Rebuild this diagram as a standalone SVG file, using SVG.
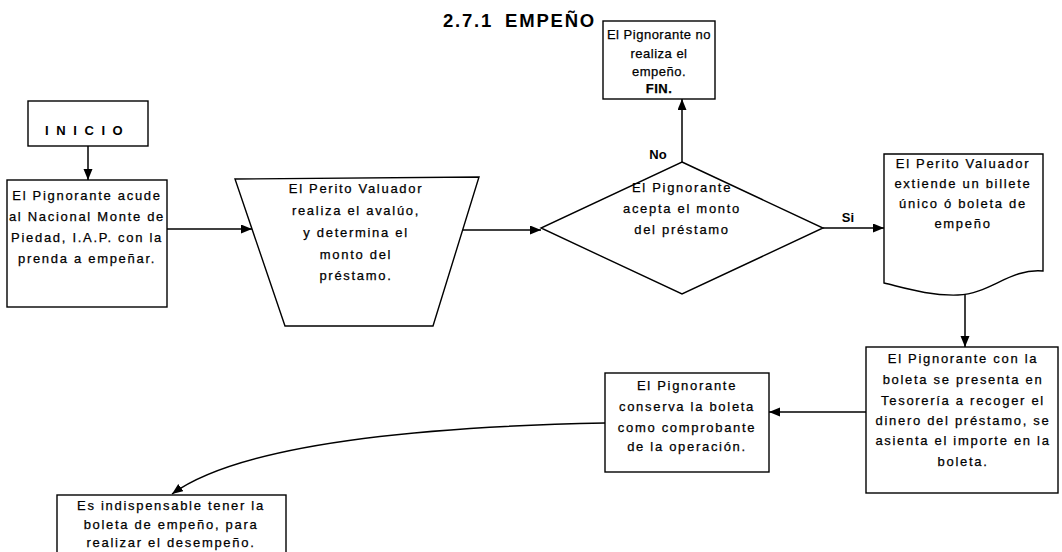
<svg xmlns="http://www.w3.org/2000/svg" width="1062" height="552" viewBox="0 0 1062 552">
<defs>
<marker id="ah" markerUnits="userSpaceOnUse" markerWidth="12" markerHeight="10" refX="11" refY="4.5" orient="auto">
<path d="M0,0 L11,4.5 L0,9 z" fill="#000"/>
</marker>
<style>
.shape{fill:#fff;stroke:#000;stroke-width:1.4}
.t{font-family:"Liberation Sans",Arial,sans-serif;font-size:13px;letter-spacing:1.7px;fill:#000;stroke:#000;stroke-width:0.25;text-anchor:middle}
.conn{fill:none;stroke:#000;stroke-width:1.5;marker-end:url(#ah)}
.lbl{font-family:"Liberation Sans",Arial,sans-serif;font-size:13px;font-weight:bold;fill:#000;text-anchor:middle}
</style>
</defs>
<rect width="1062" height="552" fill="#fff"/>
<text x="443" y="27" font-family="Liberation Sans, Arial, sans-serif" font-size="18.5" font-weight="bold" letter-spacing="1.8" word-spacing="5" fill="#000">2.7.1 EMPEÑO</text>

<g id="connectors">
<path class="conn" d="M88,146 V180"/>
<path class="conn" d="M167,229 H252"/>
<path class="conn" d="M462,230 H541"/>
<path class="conn" d="M682,162 V99"/>
<path class="conn" d="M823,228 H884"/>
<path class="conn" d="M965,292 V347"/>
<path class="conn" d="M866,412 H769"/>
<path class="conn" d="M605,423 Q260,430 172,494"/>
<text class="lbl" x="658" y="159">No</text>
<text class="lbl" x="848" y="222">Si</text>
</g>

<g id="inicio">
<rect class="shape" x="28" y="101" width="120" height="45"/>
<text x="45" y="135" font-family="Liberation Sans, Arial, sans-serif" font-size="13" font-weight="bold" letter-spacing="7.6" fill="#000">INICIO</text>
</g>

<g id="acude">
<rect class="shape" x="7" y="180" width="160" height="127"/>
<text class="t"><tspan x="87" y="200">El Pignorante acude</tspan><tspan x="87" y="221">al Nacional Monte de</tspan><tspan x="87" y="242">Piedad, I.A.P. con la</tspan><tspan x="87" y="263">prenda a empeñar.</tspan></text>
</g>

<g id="avaluo">
<path class="shape" d="M235,179 L479,177 L433,326 L285,326 Z"/>
<text class="t"><tspan x="356" y="193">El Perito Valuador</tspan><tspan x="356" y="215">realiza el avalúo,</tspan><tspan x="356" y="237">y determina el</tspan><tspan x="356" y="259">monto del</tspan><tspan x="356" y="280">préstamo.</tspan></text>
</g>

<g id="decision">
<path class="shape" d="M682,162 L823,228 L682,294 L541,228 Z"/>
<text class="t"><tspan x="682" y="192">El Pignorante</tspan><tspan x="682" y="213">acepta el monto</tspan><tspan x="682" y="234">del préstamo</tspan></text>
</g>

<g id="fin">
<rect class="shape" x="603" y="21" width="112" height="78"/>
<text class="t" style="letter-spacing:0.5px"><tspan x="659" y="39">El Pignorante no</tspan><tspan x="659" y="58">realiza el</tspan><tspan x="659" y="76">empeño.</tspan><tspan x="659" y="93" font-weight="bold">FIN.</tspan></text>
</g>

<g id="billete">
<path class="shape" d="M884,154 H1043 V271 C1010,268 990,294 958,295 C930,296 905,288 884,283 Z"/>
<text class="t"><tspan x="963" y="168">El Perito Valuador</tspan><tspan x="963" y="188">extiende un billete</tspan><tspan x="963" y="208">único ó boleta de</tspan><tspan x="963" y="228">empeño</tspan></text>
</g>

<g id="tesoreria">
<rect class="shape" x="866" y="347" width="192" height="146"/>
<text class="t"><tspan x="963" y="363">El Pignorante con la</tspan><tspan x="963" y="384">boleta se presenta en</tspan><tspan x="963" y="405">Tesorería a recoger el</tspan><tspan x="963" y="425">dinero del préstamo, se</tspan><tspan x="963" y="445">asienta el importe en la</tspan><tspan x="963" y="466">boleta.</tspan></text>
</g>

<g id="conserva">
<rect class="shape" x="605" y="373" width="164" height="99"/>
<text class="t"><tspan x="687" y="390">El Pignorante</tspan><tspan x="687" y="411">conserva la boleta</tspan><tspan x="687" y="432">como comprobante</tspan><tspan x="687" y="451">de la operación.</tspan></text>
</g>

<g id="desempeno">
<rect class="shape" x="57" y="495" width="229" height="70"/>
<text class="t"><tspan x="171" y="510">Es indispensable tener la</tspan><tspan x="171" y="529">boleta de empeño, para</tspan><tspan x="171" y="547">realizar el desempeño.</tspan></text>
</g>
</svg>
